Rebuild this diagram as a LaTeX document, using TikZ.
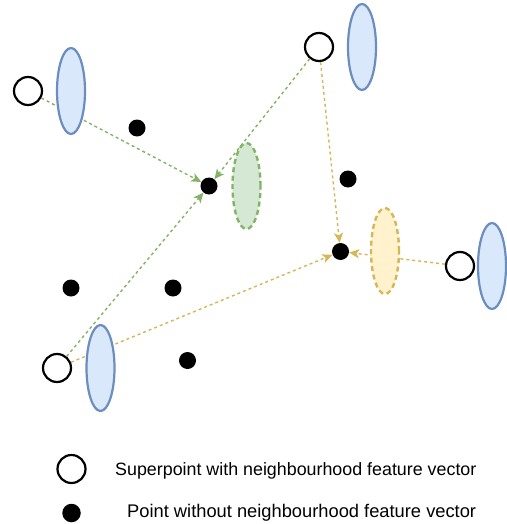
\documentclass[tikz,border=0pt]{standalone}
\usepackage{fontspec}
\setmainfont{Liberation Sans}
\usetikzlibrary{shapes.geometric,arrows.meta}

\definecolor{blueline}{HTML}{6C8EBF}
\definecolor{bluefill}{HTML}{DAE8FC}
\definecolor{greenline}{HTML}{82B366}
\definecolor{greenfill}{HTML}{D5E8D4}
\definecolor{yellowline}{HTML}{D6B656}
\definecolor{yellowfill}{HTML}{FFF2CC}

\tikzset{
  superpt/.style={circle, draw=black, line width=2.2pt, fill=none, minimum size=28pt, inner sep=0pt},
  plainpt/.style={circle, fill=black, minimum size=17pt, inner sep=0pt},
  featvec/.style={ellipse, draw=blueline, fill=bluefill, line width=2.2pt,
    minimum width=28pt, minimum height=86pt, inner sep=0pt},
  aggvec/.style={ellipse, line width=2.4pt, dash pattern=on 5pt off 3.5pt,
    minimum width=28pt, minimum height=86pt, inner sep=0pt},
  greenarrow/.style={draw=greenline, line width=1.4pt, dash pattern=on 3pt off 3pt,
    -{Stealth[length=10pt, width=9pt, inset=2.5pt, fill=greenline]}},
  yellowarrow/.style={draw=yellowline, line width=1.4pt, dash pattern=on 3pt off 3pt,
    -{Stealth[length=10pt, width=9pt, inset=2.5pt, fill=yellowline]}},
  legendtext/.style={anchor=base west, inner sep=0pt}
}

\begin{document}
\begin{tikzpicture}[x=1pt, y=-1pt]
  \useasboundingbox (0,0) rectangle (506,524);

  % superpoints
  \node[superpt] (sa) at (28,91) {};
  \node[superpt] (sb) at (319,47) {};
  \node[superpt] (sc) at (460,266) {};
  \node[superpt] (sd) at (57,368) {};

  % plain points
  \node[plainpt] (pg) at (209,186) {};
  \node[plainpt] (py) at (340.5,251.5) {};
  \node[plainpt] (p1) at (137,128) {};
  \node[plainpt] (p2) at (348,179) {};
  \node[plainpt] (p3) at (71,288) {};
  \node[plainpt] (p4) at (173,288) {};
  \node[plainpt] (p5) at (187.5,360.5) {};

  % feature propagation
  \draw[greenarrow] (sa) -- (pg);
  \draw[greenarrow] (sb) -- (pg);
  \draw[greenarrow] (sd) -- (pg);
  \draw[yellowarrow] (sb) -- (py);
  \draw[yellowarrow] (sd) -- (py);
  \draw[yellowarrow] (sc) -- (py);

  % feature vectors
  \node[featvec] (fa) at (71,91) {};
  \node[featvec] (fb) at (362,47) {};
  \node[featvec] (fc) at (492,266) {};
  \node[featvec] (fd) at (100.5,368) {};
  \node[aggvec, draw=greenline, fill=greenfill] (fg) at (246.5,186) {};
  \node[aggvec, draw=yellowline, fill=yellowfill] (fy) at (385,251) {};

  % legend
  \node[superpt] (lsuper) at (71.5,469) {};
  \node[plainpt, minimum size=18.5pt] (lplain) at (71.5,513) {};
  \node[legendtext, font=\fontsize{17.85}{20}\selectfont] (tsuper) at (115,475)
    {Superpoint with neighbourhood feature vector};
  \node[legendtext, font=\fontsize{18.3}{20}\selectfont] (tplain) at (127,517)
    {Point without neighbourhood feature vector};
\end{tikzpicture}
\end{document}
